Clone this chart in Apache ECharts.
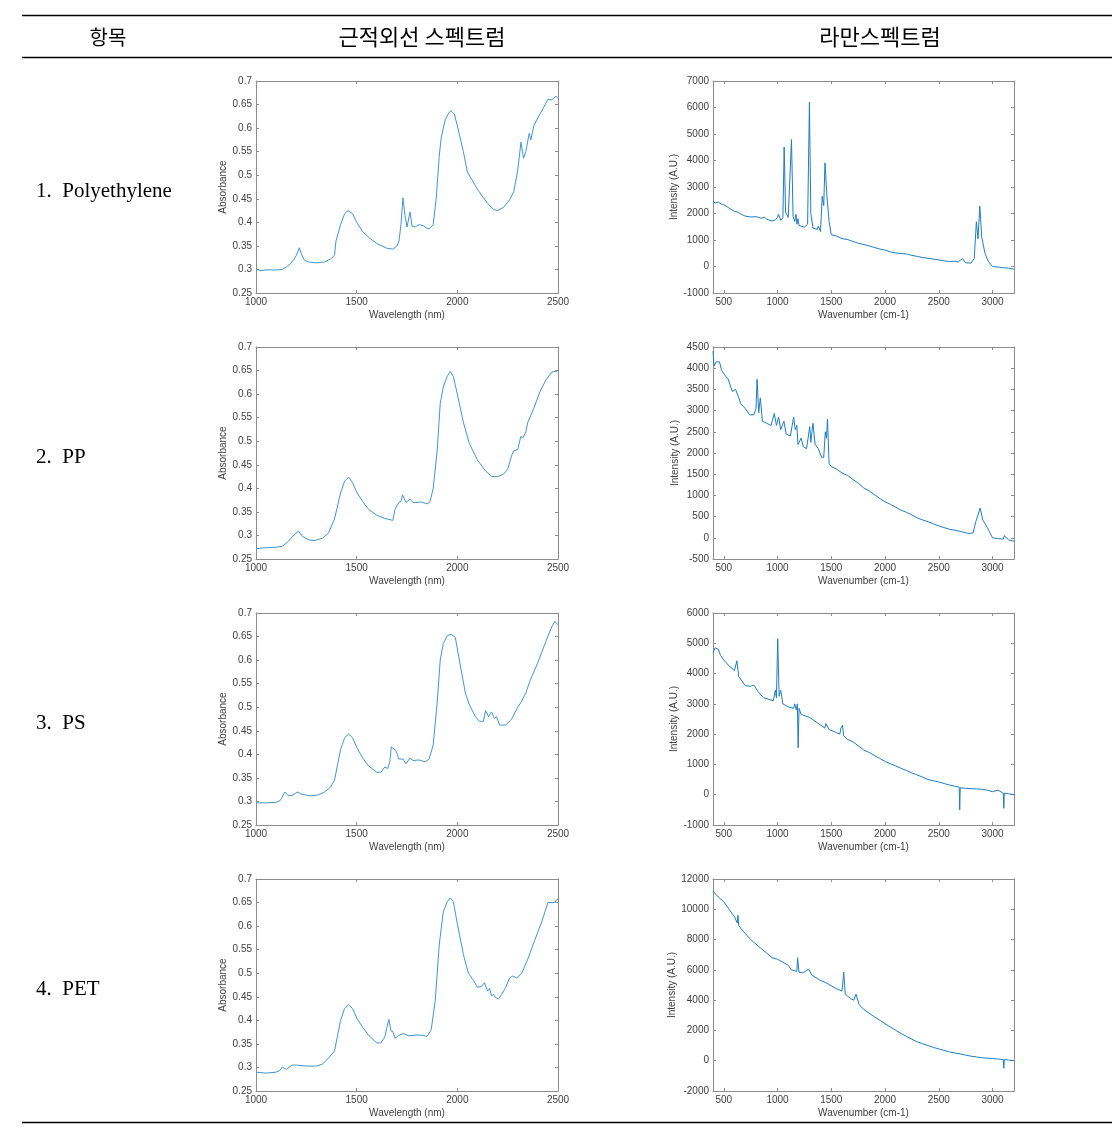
<!DOCTYPE html>
<html><head><meta charset="utf-8">
<script src="https://cdn.jsdelivr.net/npm/echarts@6/dist/echarts.min.js"></script>
<style>html,body{margin:0;padding:0;background:#fff}#c{width:1120px;height:1138px}</style>
</head><body><div id="c"></div>
<script>
// ---------- text ----------
const headers = ['항목', '근적외선 스펙트럼', '라만스펙트럼'];
const itemLabels = ['1.  Polyethylene', '2.  PP', '3.  PS', '4.  PET'];
const nirXName = 'Wavelength (nm)';
const nirYName = 'Absorbance';
const ramanXName = 'Wavenumber (cm-1)';
const ramanYName = 'Intensity (A.U.)';

// ---------- tick labels ----------
const nirXTicks = [1000, 1500, 2000, 2500];
const nirYTicks = [0.25, 0.3, 0.35, 0.4, 0.45, 0.5, 0.55, 0.6, 0.65, 0.7];
const ramanXTicks = [500, 1000, 1500, 2000, 2500, 3000];
const ramanXRange = [400, 3200];
const ramanYTicksPE = [-1000, 0, 1000, 2000, 3000, 4000, 5000, 6000, 7000];
const ramanYTicksPP = [-500, 0, 500, 1000, 1500, 2000, 2500, 3000, 3500, 4000, 4500];
const ramanYTicksPS = [-1000, 0, 1000, 2000, 3000, 4000, 5000, 6000];
const ramanYTicksPET = [-2000, 0, 2000, 4000, 6000, 8000, 10000, 12000];

// ---------- NIR: Polyethylene ----------
const nirPE_x = [1000,1010,1020,1050,1100,1130,1150,1170,1190,1200,1215,1225,1240,1260,1300,1340,1370,1390,1397,1405,1420,1440,1457,1480,1500,1530,1560,1600,1650,1680,1700,1710,1720,1730,1740,1750,1765,1775,1790,1810,1830,1850,1860,1880,1895,1910,1920,1940,1955,1967,1985,2000,2030,2050,2100,2150,2180,2200,2230,2260,2280,2300,2316,2329,2340,2357,2365,2380,2400,2430,2450,2470,2490,2500];
const nirPE_y = [0.297,0.300,0.297,0.299,0.299,0.300,0.305,0.312,0.322,0.330,0.346,0.333,0.320,0.316,0.314,0.316,0.322,0.330,0.360,0.360,0.395,0.418,0.425,0.418,0.400,0.380,0.368,0.355,0.345,0.343,0.350,0.360,0.395,0.452,0.415,0.390,0.422,0.392,0.390,0.395,0.393,0.387,0.386,0.395,0.450,0.540,0.580,0.618,0.630,0.637,0.630,0.605,0.550,0.507,0.470,0.440,0.427,0.425,0.432,0.448,0.465,0.510,0.570,0.536,0.550,0.589,0.575,0.605,0.622,0.645,0.661,0.660,0.668,0.663];

// ---------- NIR: PP ----------
const nirPP_x = [1000,1050,1100,1130,1160,1190,1212,1230,1260,1290,1330,1360,1390,1420,1440,1460,1480,1500,1530,1560,1600,1640,1680,1690,1710,1720,1728,1745,1765,1780,1800,1820,1850,1865,1880,1900,1915,1930,1950,1965,1980,2000,2030,2060,2100,2140,2170,2200,2230,2250,2270,2280,2300,2315,2325,2340,2350,2380,2410,2440,2470,2490,2500];
const nirPP_y = [0.272,0.274,0.275,0.277,0.287,0.302,0.309,0.298,0.291,0.289,0.294,0.305,0.335,0.390,0.415,0.424,0.412,0.392,0.372,0.355,0.343,0.336,0.332,0.355,0.370,0.372,0.386,0.370,0.377,0.370,0.370,0.371,0.367,0.372,0.400,0.480,0.580,0.615,0.638,0.648,0.638,0.600,0.540,0.495,0.460,0.437,0.425,0.425,0.430,0.440,0.470,0.480,0.482,0.510,0.507,0.520,0.540,0.570,0.605,0.630,0.647,0.648,0.650];

// ---------- NIR: PS ----------
const nirPS_x = [1000,1050,1100,1120,1144,1160,1180,1205,1230,1270,1310,1340,1370,1390,1420,1440,1460,1480,1500,1530,1560,1600,1620,1640,1655,1665,1672,1695,1710,1730,1745,1765,1780,1810,1840,1860,1880,1900,1915,1930,1950,1970,1990,2010,2040,2060,2090,2110,2130,2140,2155,2170,2185,2195,2210,2240,2270,2300,2320,2340,2360,2400,2440,2470,2485,2500];
const nirPS_y = [0.297,0.297,0.298,0.302,0.320,0.312,0.313,0.320,0.315,0.312,0.314,0.320,0.330,0.345,0.410,0.435,0.443,0.435,0.415,0.392,0.375,0.362,0.362,0.373,0.370,0.385,0.416,0.408,0.390,0.390,0.380,0.392,0.387,0.388,0.384,0.390,0.420,0.510,0.600,0.635,0.652,0.655,0.648,0.600,0.530,0.505,0.480,0.470,0.470,0.493,0.480,0.490,0.476,0.480,0.462,0.462,0.475,0.500,0.513,0.530,0.555,0.595,0.640,0.672,0.682,0.675];

// ---------- NIR: PET ----------
const nirPET_x = [1000,1050,1100,1120,1130,1150,1180,1200,1250,1300,1330,1360,1390,1420,1440,1460,1480,1500,1530,1560,1600,1620,1640,1650,1660,1670,1680,1690,1710,1730,1760,1800,1830,1850,1870,1890,1910,1930,1950,1965,1980,2000,2030,2055,2080,2100,2120,2135,2150,2160,2170,2180,2190,2205,2220,2240,2260,2275,2295,2320,2350,2380,2420,2450,2480,2500];
const nirPET_y = [0.290,0.288,0.290,0.294,0.301,0.296,0.305,0.305,0.303,0.303,0.307,0.320,0.335,0.400,0.425,0.433,0.425,0.405,0.385,0.368,0.352,0.352,0.365,0.385,0.402,0.378,0.376,0.362,0.368,0.372,0.367,0.369,0.368,0.366,0.380,0.440,0.560,0.630,0.652,0.660,0.652,0.605,0.540,0.500,0.485,0.470,0.472,0.480,0.462,0.468,0.452,0.455,0.448,0.446,0.455,0.470,0.490,0.494,0.490,0.500,0.530,0.565,0.610,0.650,0.650,0.658];

// ---------- Raman: Polyethylene ----------
const ramPE_x = [400,420,450,480,500,530,550,600,630,650,700,750,800,850,880,900,950,980,1000,1010,1030,1050,1062,1075,1100,1115,1130,1145,1160,1172,1180,1190,1200,1250,1280,1297,1310,1330,1370,1380,1400,1416,1430,1442,1460,1480,1500,1550,1600,1650,1700,1750,1800,1850,1900,1950,2000,2050,2100,2150,2200,2250,2300,2350,2400,2450,2500,2550,2600,2650,2680,2720,2750,2800,2830,2850,2865,2882,2900,2930,2960,3000,3050,3100,3150,3200];
const ramPE_y = [2450,2400,2430,2350,2330,2260,2200,2080,2050,2000,1900,1870,1880,1820,1860,1780,1720,1760,1850,1970,1740,1850,4510,2050,1850,1900,4790,1900,1700,1970,1600,1800,1550,1480,1600,6200,2000,1450,1400,1530,1320,2650,2300,3910,2650,1700,1200,1150,1050,1020,950,880,830,780,720,660,620,550,510,490,470,420,380,340,310,280,250,210,190,200,170,300,140,130,300,1690,1050,2280,1100,500,200,0,-20,-50,-60,-100];

// ---------- Raman: PP ----------
const ramPP_x = [400,410,430,460,480,520,540,580,610,640,660,700,740,780,800,810,825,840,860,900,940,970,990,1010,1030,1060,1080,1120,1150,1165,1180,1190,1220,1240,1270,1300,1310,1330,1350,1380,1410,1430,1445,1455,1465,1480,1500,1550,1600,1650,1700,1750,1800,1850,1900,1950,2000,2050,2100,2150,2200,2250,2300,2350,2400,2450,2500,2550,2600,2650,2700,2780,2820,2845,2860,2885,2910,2950,2970,3000,3050,3100,3110,3150,3200];
const ramPP_y = [4400,4050,4150,4150,3950,3800,3750,3450,3500,3300,3150,3050,2900,2900,3050,3740,2950,3300,2750,2700,2650,2930,2650,2850,2550,2750,2450,2400,2850,2550,2650,2200,2350,2150,2100,2620,2250,2700,2200,2100,1900,1900,2500,2350,2800,1750,1680,1620,1530,1470,1380,1290,1180,1110,1020,930,850,790,720,650,600,540,470,420,380,330,280,240,200,180,150,100,120,380,350,700,420,250,150,0,-20,-30,50,-50,-80];

// ---------- Raman: PS ----------
const ramPS_x = [400,420,450,470,500,550,600,622,640,700,750,780,820,870,920,960,980,990,1002,1015,1030,1050,1100,1150,1160,1175,1185,1192,1200,1220,1300,1400,1440,1450,1480,1550,1580,1590,1605,1615,1650,1700,1750,1800,1850,1900,1950,2000,2050,2100,2150,2200,2250,2300,2350,2400,2450,2500,2550,2600,2650,2690,2695,2700,2750,2800,2850,2900,2950,3000,3050,3100,3105,3110,3150,3200];
const ramPS_y = [4700,4850,4800,4600,4450,4250,4100,4420,3900,3600,3580,3620,3400,3200,3150,3100,3450,3200,5150,3250,3450,3000,2900,2850,3000,2800,3000,1550,2850,2650,2550,2300,2200,2350,2150,2050,2000,2200,2300,1950,1830,1750,1620,1480,1400,1300,1200,1100,1020,950,870,800,720,650,580,500,460,420,370,320,280,250,-500,230,210,200,190,180,150,100,150,50,-450,50,30,0];

// ---------- Raman: PET ----------
const ramPET_x = [400,450,500,550,600,625,632,640,700,750,800,850,900,950,1000,1050,1100,1130,1180,1187,1200,1230,1260,1290,1320,1400,1450,1500,1550,1600,1610,1616,1630,1680,1710,1730,1760,1800,1850,1900,1950,2000,2050,2100,2150,2200,2250,2300,2350,2400,2450,2500,2550,2600,2650,2700,2750,2800,2850,2900,2950,3000,3050,3100,3105,3110,3150,3200];
const ramPET_y = [11200,10800,10500,10000,9500,9100,9600,8900,8400,8000,7700,7400,7100,6800,6700,6500,6300,6000,5900,6800,5850,5800,5900,6050,5650,5300,5150,4950,4750,4600,4700,5850,4400,4100,4000,4400,3700,3400,3150,2900,2680,2450,2220,2000,1800,1600,1420,1250,1120,1000,880,780,680,580,510,450,370,300,250,200,170,150,110,80,-500,80,40,0];

// ---------- build ----------
const NIR = [[nirPE_x, nirPE_y], [nirPP_x, nirPP_y], [nirPS_x, nirPS_y], [nirPET_x, nirPET_y]];
const RAM = [[ramPE_x, ramPE_y, ramanYTicksPE], [ramPP_x, ramPP_y, ramanYTicksPP], [ramPS_x, ramPS_y, ramanYTicksPS], [ramPET_x, ramPET_y, ramanYTicksPET]];
const pairs = (xs, ys) => xs.map((x, i) => [x, ys[i]]);
const fmt = v => String(+(+v).toFixed(4));

const rowTops = [81, 347, 613, 879];
const gridH = 212;
const boxColor = '#8c8c8c';
const labColor = '#404040';
const font = 'Liberation Sans';

const grid = [], xAxis = [], yAxis = [], series = [];

function addPanel(left, width, top, xMin, xMax, xTicks, yTicks, xName, yName, yNameGap, data, color) {
  const g = grid.length;
  grid.push({ left, top, width, height: gridH, containLabel: false });
  const yMin = yTicks[0], yMax = yTicks[yTicks.length - 1];
  const line = { show: true, onZero: false, lineStyle: { color: boxColor, width: 1 } };
  const tick = vals => ({ show: true, inside: true, length: 3, customValues: vals, lineStyle: { color: boxColor } });
  const lab = vals => ({ color: labColor, fontSize: 10, fontFamily: font, margin: 4, customValues: vals, formatter: fmt });
  const nameStyle = { color: labColor, fontSize: 10, fontFamily: font };
  xAxis.push({ gridIndex: g, type: 'value', position: 'bottom', min: xMin, max: xMax,
    splitLine: { show: false }, axisLine: line, axisTick: tick(xTicks), axisLabel: lab(xTicks),
    name: xName, nameLocation: 'middle', nameGap: 17, nameTextStyle: nameStyle });
  xAxis.push({ gridIndex: g, type: 'value', position: 'top', min: xMin, max: xMax,
    splitLine: { show: false }, axisLine: line, axisTick: tick(xTicks), axisLabel: { show: false } });
  yAxis.push({ gridIndex: g, type: 'value', position: 'left', min: yMin, max: yMax,
    splitLine: { show: false }, axisLine: line, axisTick: tick(yTicks), axisLabel: lab(yTicks),
    name: yName, nameLocation: 'middle', nameGap: yNameGap, nameTextStyle: nameStyle });
  yAxis.push({ gridIndex: g, type: 'value', position: 'right', min: yMin, max: yMax,
    splitLine: { show: false }, axisLine: line, axisTick: tick(yTicks), axisLabel: { show: false } });
  series.push({
    type: 'line', xAxisIndex: 2 * g, yAxisIndex: 2 * g, data,
    showSymbol: false, symbol: 'none', clip: true,
    lineStyle: { color, width: 1 }, silent: true
  });
}

for (let r = 0; r < 4; r++) {
  addPanel(256, 302, rowTops[r], nirXTicks[0], nirXTicks[nirXTicks.length - 1], nirXTicks,
    nirYTicks, nirXName, nirYName, 27, pairs(NIR[r][0], NIR[r][1]), '#4196d2');
  addPanel(713, 301, rowTops[r], ramanXRange[0], ramanXRange[1], ramanXTicks,
    RAM[r][2], ramanXName, ramanYName, 33, pairs(RAM[r][0], RAM[r][1]), '#1f7dc2');
}

const graphic = [
  { type: 'line', shape: { x1: 22, y1: 15.5, x2: 1112, y2: 15.5 }, style: { stroke: '#000', lineWidth: 1.3 } },
  { type: 'line', shape: { x1: 22, y1: 57.5, x2: 1112, y2: 57.5 }, style: { stroke: '#000', lineWidth: 1.3 } },
  { type: 'line', shape: { x1: 22, y1: 1122.5, x2: 1112, y2: 1122.5 }, style: { stroke: '#000', lineWidth: 1.3 } }
];
const headerX = [108, 422, 880];
const headerSize = [20, 22, 22];
headers.forEach((h, i) => graphic.push({
  type: 'text', x: headerX[i], y: 37,
  style: { text: h, fill: '#000', font: headerSize[i] + 'px "Noto Sans CJK KR"', textAlign: 'center', textVerticalAlign: 'middle' }
}));
itemLabels.forEach((t, i) => graphic.push({
  type: 'text', x: 36, y: 191 + i * 266,
  style: { text: t, fill: '#000', font: '21px "Liberation Serif"', textAlign: 'left', textVerticalAlign: 'middle' }
}));

const chart = echarts.init(document.getElementById('c'), null, { renderer: 'canvas' });
chart.setOption({ animation: false, backgroundColor: '#fff', grid, xAxis, yAxis, series, graphic });
</script>
</body></html>
